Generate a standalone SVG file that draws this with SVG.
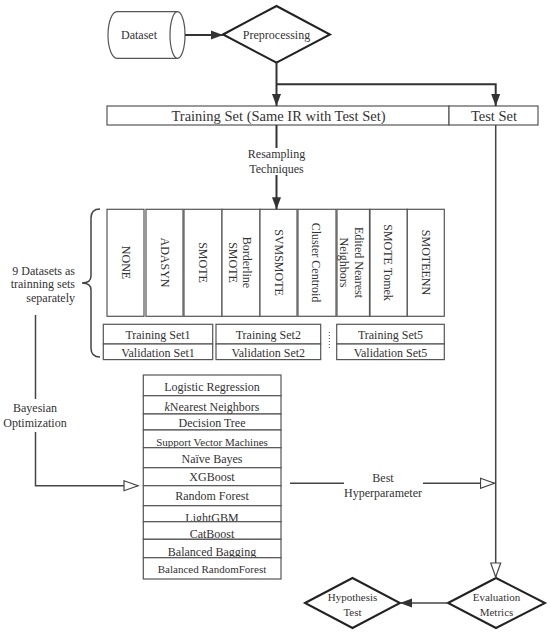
<svg xmlns="http://www.w3.org/2000/svg" width="550" height="634" viewBox="0 0 550 634">
<style>
text{font-family:"Liberation Serif","Times New Roman",serif;fill:#333;text-anchor:middle}
.box{fill:#fff;stroke:#555;stroke-width:1.2}
.dia{fill:#fff;stroke:#222;stroke-width:2}
.con{fill:none;stroke:#333;stroke-width:2}
.thin{fill:none;stroke:#444;stroke-width:1.5}
.s12{font-size:12px}
.s11{font-size:11px}
.s14{font-size:14.5px}
</style>
<defs>
<marker id="ah" markerWidth="13" markerHeight="10" refX="12" refY="5" orient="auto" markerUnits="userSpaceOnUse"><path d="M0,0.5 L12,5 L0,9.5 z" fill="#333"/></marker>
<marker id="oh" markerWidth="17" markerHeight="12" refX="15" refY="6" orient="auto" markerUnits="userSpaceOnUse"><path d="M1,1 L15,6 L1,11 z" fill="#fff" stroke="#444" stroke-width="1.2"/></marker>
</defs>
<rect width="550" height="634" fill="#fff"/>

<g id="dataset">
<path class="box" d="M177.5,11.7 H117 A9 23.3 0 0 0 117,58.3 H177.5"/>
<ellipse class="box" cx="177.5" cy="35" rx="7.5" ry="23.3"/>
<text class="s12" x="139" y="39">Dataset</text>
</g>

<g id="preprocessing">
<polygon class="dia" points="223,34.5 276.5,6 330,34.5 276.5,62.7"/>
<text class="s12" x="276.5" y="39">Preprocessing</text>
</g>

<g id="training-set">
<rect class="box" x="107" y="106" width="342" height="19"/>
<text class="s14" x="278.5" y="121">Training Set (Same IR with Test Set)</text>
</g>
<g id="test-set">
<rect class="box" x="449" y="106" width="89" height="19"/>
<text class="s14" x="494" y="121">Test Set</text>
</g>

<g id="resampling">
<rect class="box" x="107" y="209.3" width="37" height="107"/>
<text class="s12" transform="translate(125.5,262.5) rotate(90)" y="4">NONE</text>
<rect class="box" x="146" y="209.3" width="37" height="107"/>
<text class="s12" transform="translate(164.5,262.5) rotate(90)" y="4">ADASYN</text>
<rect class="box" x="184" y="209.3" width="38" height="107"/>
<text class="s12" transform="translate(203,262.5) rotate(90)" y="4">SMOTE</text>
<rect class="box" x="222" y="209.3" width="38" height="107"/>
<text class="s12" transform="translate(247,262.5) rotate(90)" y="4">Borderline</text>
<text class="s12" transform="translate(232.5,262.5) rotate(90)" y="4">SMOTE</text>
<rect class="box" x="260" y="209.3" width="37" height="107"/>
<text class="s12" transform="translate(278.5,262.5) rotate(90)" y="4">SVMSMOTE</text>
<rect class="box" x="298" y="209.3" width="38" height="107"/>
<text class="s12" transform="translate(316,262.5) rotate(90)" y="4">Cluster Centroid</text>
<rect class="box" x="337" y="209.3" width="32.5" height="107"/>
<text class="s12" transform="translate(358.5,262.5) rotate(90)" y="4">Edited Nearest</text>
<text class="s12" transform="translate(344,262.5) rotate(90)" y="4">Neighbors</text>
<rect class="box" x="370" y="209.3" width="37.3" height="107"/>
<text class="s12" transform="translate(388,262.5) rotate(90)" y="4">SMOTE Tomek</text>
<rect class="box" x="407.3" y="209.3" width="37" height="107"/>
<text class="s12" transform="translate(425.5,262.5) rotate(90)" y="4">SMOTEENN</text>
</g>

<g id="brace">
<path fill="none" stroke="#444" stroke-width="1.5" d="M100,209 Q91,209 91,218 L91,276 Q91,283 82,283 Q91,283 91,290 L91,348 Q91,357 100,357"/>
<text class="s12" x="75" y="275" style="text-anchor:end">9 Datasets as</text>
<text class="s12" x="75" y="288" style="text-anchor:end">trainning sets</text>
<text class="s12" x="75" y="302" style="text-anchor:end">separately</text>
</g>

<g id="fold1">
<rect class="box" x="103.3" y="324.3" width="109.4" height="19.7"/>
<text class="s12" x="158" y="339">Training Set1</text>
<rect class="box" x="103.3" y="344" width="109.4" height="15.6"/>
<text class="s12" x="158" y="357">Validation Set1</text>
</g>
<g id="fold2">
<rect class="box" x="216" y="324.3" width="104.7" height="19.7"/>
<text class="s12" x="268.3" y="339">Training Set2</text>
<rect class="box" x="216" y="344" width="104.7" height="15.6"/>
<text class="s12" x="268.3" y="357">Validation Set2</text>
</g>
<line x1="329.3" y1="332" x2="329.3" y2="349" stroke="#555" stroke-width="1" stroke-dasharray="1,2"/>
<g id="fold5">
<rect class="box" x="336.7" y="324.3" width="107.6" height="19.7"/>
<text class="s12" x="390.5" y="339">Training Set5</text>
<rect class="box" x="336.7" y="344" width="107.6" height="15.6"/>
<text class="s12" x="390.5" y="357">Validation Set5</text>
</g>

<g id="models">
<rect class="box" x="143.3" y="375" width="137.7" height="20.7"/>
<text class="s12" x="212" y="391">Logistic Regression</text>
<rect class="box" x="143.3" y="395.7" width="137.7" height="18.3"/>
<text class="s12" x="212" y="411"><tspan font-style="italic">k</tspan>Nearest Neighbors</text>
<rect class="box" x="143.3" y="414" width="137.7" height="16"/>
<text class="s12" x="212" y="427">Decision Tree</text>
<rect class="box" x="143.3" y="430" width="137.7" height="17.7"/>
<text class="s11" x="212" y="445.5">Support Vector Machines</text>
<rect class="box" x="143.3" y="447.7" width="137.7" height="20"/>
<text class="s12" x="212" y="463">Naïve Bayes</text>
<rect class="box" x="143.3" y="467.7" width="137.7" height="18"/>
<text class="s12" x="212" y="481">XGBoost</text>
<rect class="box" x="143.3" y="485.7" width="137.7" height="20"/>
<text class="s12" x="212" y="500">Random Forest</text>
<rect class="box" x="143.3" y="505.7" width="137.7" height="16"/>
<text class="s12" x="212" y="521.5">LightGBM</text>
<rect class="box" x="143.3" y="521.7" width="137.7" height="17.6"/>
<text class="s12" x="212" y="538">CatBoost</text>
<rect class="box" x="143.3" y="539.3" width="137.7" height="18.4"/>
<text class="s12" x="212" y="555.5">Balanced Bagging</text>
<rect class="box" x="143.3" y="557.7" width="137.7" height="21.3"/>
<text class="s11" x="212" y="573">Balanced RandomForest</text>
</g>

<g id="hypothesis-test">
<polygon class="dia" points="305,603 352.5,578 400,603 352.5,628"/>
<text class="s11" x="352.5" y="601">Hypothesis</text>
<text class="s11" x="352.5" y="616">Test</text>
</g>
<g id="evaluation-metrics">
<polygon class="dia" points="448,603 496,578 545,603 496,628"/>
<text class="s11" x="496.5" y="601">Evaluation</text>
<text class="s11" x="496.5" y="616">Metrics</text>
</g>

<g id="connectors">
<path class="con" d="M185,35 H223" marker-end="url(#ah)"/>
<path class="con" d="M276.5,62.7 V106" marker-end="url(#ah)"/>
<path class="con" d="M276.5,84.3 H495.7 V106" marker-end="url(#ah)"/>
<path class="con" d="M276.5,125 V148"/>
<path class="con" d="M276.5,175 V209.3" marker-end="url(#ah)"/>
<text class="s12" x="276.5" y="158">Resampling</text>
<text class="s12" x="276.5" y="173">Techniques</text>
<path class="thin" d="M495.7,125 V577" marker-end="url(#oh)"/>
<path class="thin" d="M35.5,315 V399"/>
<path class="thin" d="M35.5,432 V485.7 H138" marker-end="url(#oh)"/>
<text class="s12" x="35" y="412">Bayesian</text>
<text class="s12" x="35" y="427">Optimization</text>
<path class="thin" d="M290,483.3 H344"/>
<path class="thin" d="M423,483.3 H494.5" marker-end="url(#oh)"/>
<text class="s12" x="383" y="481.5">Best</text>
<text class="s12" x="383" y="496.5">Hyperparameter</text>
<path class="thin" d="M448,603 H400" marker-end="url(#ah)"/>
</g>
</svg>
